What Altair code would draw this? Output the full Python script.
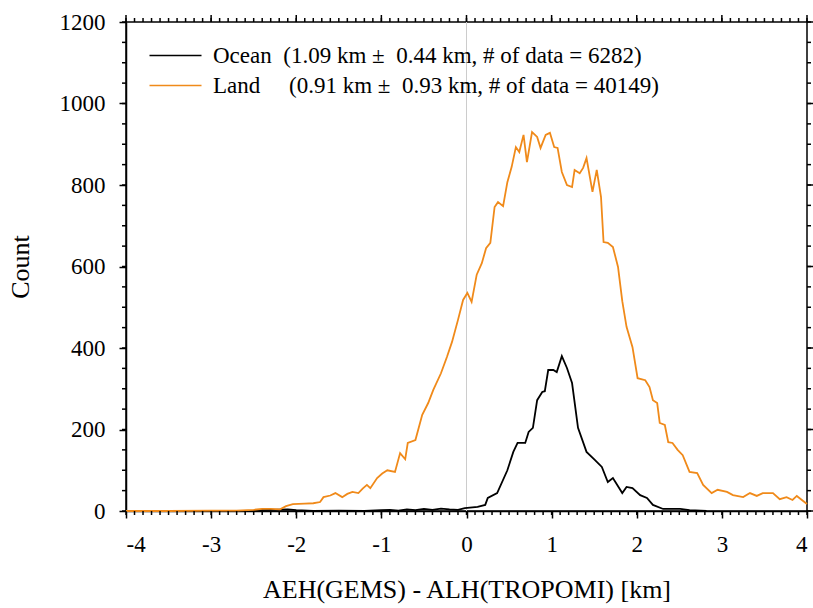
import altair as alt
import pandas as pd

# ---------------- data ----------------
ocean_x = [-4.0, -3.0, -2.5, -2.45, -2.3, -2.1, -2.0, -1.8, -1.5, -1.2, -1.0, -0.9, -0.8, -0.7,
           -0.6, -0.5, -0.4, -0.3, -0.2, -0.1, -0.02, 0.13, 0.22, 0.25, 0.36, 0.48, 0.55, 0.6,
           0.69, 0.73, 0.78, 0.83, 0.89, 0.92, 0.96, 1.02, 1.06, 1.12, 1.18, 1.24, 1.31, 1.41,
           1.51, 1.59, 1.66, 1.72, 1.83, 1.88, 1.95, 2.04, 2.12, 2.19, 2.31, 2.51, 2.62, 2.82]
ocean_y = [0, 0, 0, 2, 3, 4, 2, 0, 1, 0, 2, 3, 1, 4,
           2, 5, 3, 6, 4, 3, 7, 10, 15, 32, 44, 100, 145, 167,
           167, 194, 204, 272, 292, 294, 346, 346, 341, 380, 351, 314, 204, 145,
           125, 108, 71, 81, 44, 59, 56, 39, 32, 15, 5, 5, 2, 0]

land_x = [-4.0, -3.5, -3.0, -2.7, -2.5, -2.4, -2.3, -2.19, -2.12, -2.04, -1.9, -1.8, -1.72,
          -1.68, -1.6, -1.54, -1.46, -1.4, -1.34, -1.27, -1.22, -1.17, -1.13, -1.05, -0.99,
          -0.93, -0.84, -0.78, -0.72, -0.69, -0.6, -0.52, -0.45, -0.39, -0.3, -0.23, -0.17,
          -0.1, -0.04, 0.01, 0.06, 0.12, 0.18, 0.23, 0.28, 0.33, 0.37, 0.43, 0.48, 0.53, 0.58,
          0.62, 0.67, 0.71, 0.77, 0.83, 0.87, 0.93, 0.98, 1.03, 1.07, 1.12, 1.18, 1.24, 1.27,
          1.33, 1.37, 1.41, 1.48, 1.53, 1.58, 1.61, 1.66, 1.72, 1.78, 1.83, 1.88, 1.95, 2.01,
          2.1, 2.15, 2.19, 2.24, 2.27, 2.33, 2.37, 2.42, 2.48, 2.54, 2.62, 2.71, 2.78, 2.88,
          2.95, 3.06, 3.13, 3.25, 3.33, 3.41, 3.48, 3.6, 3.68, 3.76, 3.83, 3.88, 3.94, 4.0]
land_y = [0, 0, 1, 1, 3, 5, 5, 4, 12, 17, 18, 19, 22,
          34, 38, 44, 34, 42, 47, 44, 55, 64, 56, 81, 92,
          100, 96, 142, 127, 167, 174, 236, 265, 297, 338, 378, 415,
          469, 518, 535, 513, 580, 608, 645, 658, 746, 758, 748, 807, 844, 893,
          881, 923, 856, 930, 918, 891, 923, 928, 893, 891, 832, 800, 795, 837,
          829, 842, 866, 783, 837, 771, 660, 658, 648, 599, 515, 452, 402, 326,
          321, 304, 272, 265, 216, 211, 169, 167, 150, 137, 96, 93, 64, 44,
          52, 47, 39, 34, 44, 37, 44, 44, 29, 34, 27, 37, 27, 17]

NB = "\u00a0"
series_labels = [
    "Ocean" + NB * 2 + "(1.09 km ±" + NB * 2 + "0.44 km, # of data = 6282)",
    "Land" + NB * 5 + "(0.91 km ±" + NB * 2 + "0.93 km, # of data = 40149)",
]
series_colors = ["#000000", "#f08a1a"]

x_major = [-4, -3, -2, -1, 0, 1, 2, 3, 4]
x_minor = [round(-4 + 0.1 * i, 1) for i in range(81)]
y_major = [0, 200, 400, 600, 800, 1000, 1200]
y_minor = [50 * i for i in range(25)]
zero_line = [0]

x_title = "AEH(GEMS) - ALH(TROPOMI) [km]"
y_title = "Count"

# ---------------- build tables ----------------
df = pd.concat([
    pd.DataFrame({"x": ocean_x, "y": ocean_y, "series": series_labels[0]}),
    pd.DataFrame({"x": land_x, "y": land_y, "series": series_labels[1]}),
], ignore_index=True)
zero_df = pd.DataFrame({"x": zero_line})
xmaj_df = pd.DataFrame({"x": x_major})
xmin_df = pd.DataFrame({"x": x_minor})
ymaj_df = pd.DataFrame({"y": y_major})
ymin_df = pd.DataFrame({"y": y_minor})

W, H = 681, 489
FONT = "Liberation Serif"
xs = alt.Scale(domain=[-4, 4], nice=False, zero=False)
ys = alt.Scale(domain=[0, 1200], nice=False)

common_axis = dict(
    tickWidth=1.5, tickColor="black", domainColor="black", domainWidth=1.5, grid=False,
    labelFont=FONT, labelFontSize=23, labelColor="black",
    titleFont=FONT, titleFontSize=26, titleFontWeight="normal", titleColor="black",
    labelExpr="'' + datum.value",
)

rule = alt.Chart(zero_df).mark_rule(color="#cccccc", strokeWidth=1).encode(
    x=alt.X("x:Q", scale=xs,
            axis=alt.Axis(orient="bottom", values=x_major, tickSize=7, title=x_title,
                          labelPadding=15, titlePadding=20, **common_axis)),
)

lines = alt.Chart(df).mark_line(strokeWidth=1.8).encode(
    x=alt.X("x:Q", scale=xs, axis=None),
    y=alt.Y("y:Q", scale=ys,
            axis=alt.Axis(orient="left", values=y_major, tickSize=7, title=y_title,
                          labelPadding=14, titlePadding=26, **common_axis)),
    color=alt.Color(
        "series:N",
        scale=alt.Scale(domain=series_labels, range=series_colors),
        sort=series_labels,
        legend=alt.Legend(
            title=None, orient="none", legendX=38, legendY=22,
            symbolType="M-2.6,0L2.6,0", symbolSize=400, symbolStrokeWidth=1.6,
            labelFont=FONT, labelFontSize=23, labelColor="black", labelOffset=26,
            rowPadding=6, padding=0, labelLimit=0,
        ),
    ),
)


def xticks(data, y0, y1):
    return alt.Chart(data).mark_rule(color="black", strokeWidth=1.5).encode(
        x=alt.X("x:Q", scale=xs, axis=None),
        y=alt.value(y0), y2=alt.value(y1),
    )


def yticks(data, x0, x1):
    return alt.Chart(data).mark_rule(color="black", strokeWidth=1.5).encode(
        y=alt.Y("y:Q", scale=ys, axis=None),
        x=alt.value(x0), x2=alt.value(x1),
    )


ticks = [
    xticks(xmin_df, H, H + 4),      # bottom minor
    xticks(xmin_df, -4, 0),         # top minor
    xticks(xmaj_df, -7, 0),         # top major
    yticks(ymin_df, -4, 0),         # left minor
    yticks(ymin_df, W, W + 4),      # right minor
    yticks(ymaj_df, W, W + 7),      # right major
]

chart = alt.layer(rule, lines, *ticks).resolve_axis(
    x="independent", y="independent"
).properties(
    width=W, height=H,
    padding={"left": 126, "top": 22, "right": 6, "bottom": 97},
    autosize=alt.AutoSizeParams(type="none"),
    background="white",
).configure_view(stroke="black", strokeWidth=1.5)

chart.save("out.html", embed_options={"renderer": "svg", "actions": False})
